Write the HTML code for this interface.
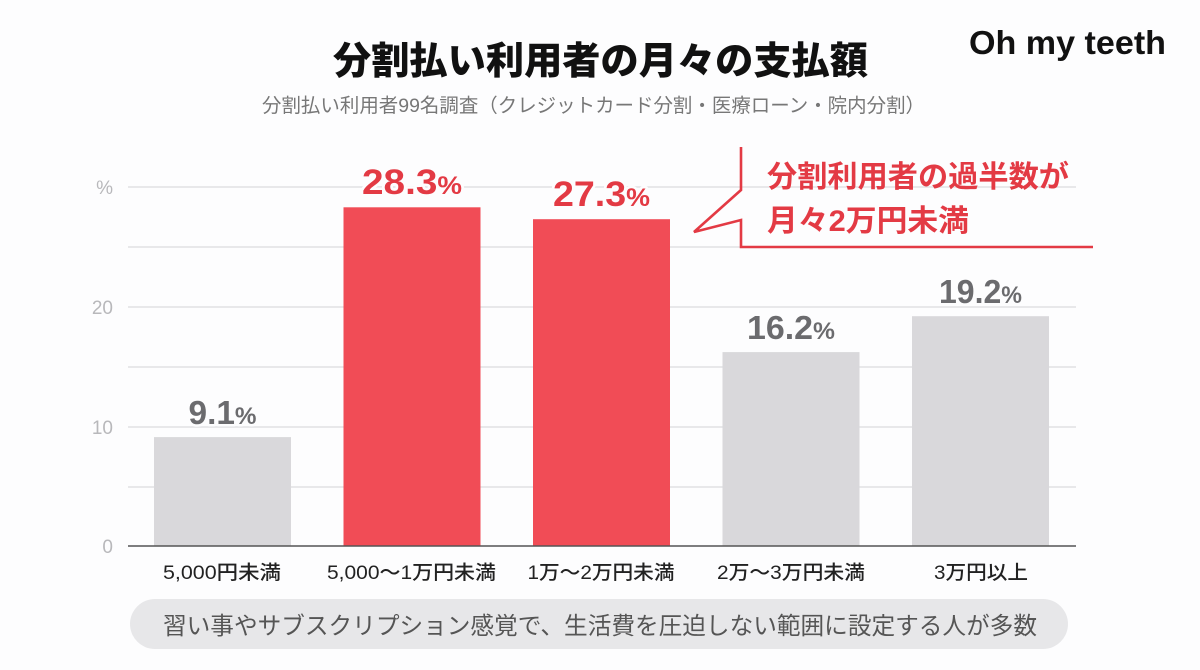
<!DOCTYPE html>
<html lang="ja">
<head>
<meta charset="utf-8">
<style>
  html,body{margin:0;padding:0;background:#fdfdfe;}
  svg{display:block;}
  text{font-family:"Liberation Sans","Noto Sans CJK JP",sans-serif;}
</style>
</head>
<body>
<svg width="1200" height="670" viewBox="0 0 1200 670" xmlns="http://www.w3.org/2000/svg">
  <rect x="0" y="0" width="1200" height="670" fill="#fdfdfe"/>

  <!-- Title -->
  <text x="333" y="74" font-size="38" font-weight="900" fill="#111" textLength="535" lengthAdjust="spacingAndGlyphs">分割払い利用者の月々の支払額</text>
  <!-- Subtitle -->
  <text x="262" y="112" font-size="19.5" fill="#777" textLength="663" lengthAdjust="spacingAndGlyphs">分割払い利用者99名調査（クレジットカード分割・医療ローン・院内分割）</text>

  <!-- Logo -->
  <text x="969" y="54" font-size="33" font-weight="bold" fill="#111" textLength="197" lengthAdjust="spacingAndGlyphs">Oh my teeth</text>

  <!-- Gridlines -->
  <g stroke="#e1e1e4" stroke-width="1.5">
    <line x1="128" y1="187" x2="1076" y2="187"/>
    <line x1="128" y1="247" x2="1076" y2="247"/>
    <line x1="128" y1="307" x2="1076" y2="307"/>
    <line x1="128" y1="367" x2="1076" y2="367"/>
    <line x1="128" y1="427" x2="1076" y2="427"/>
    <line x1="128" y1="487" x2="1076" y2="487"/>
  </g>

  <!-- Y labels -->
  <g font-size="19" fill="#b8b8bb" text-anchor="end">
    <text x="113" y="194">%</text>
    <text x="113" y="314">20</text>
    <text x="113" y="434">10</text>
    <text x="113" y="553">0</text>
  </g>

  <!-- Bars -->
  <rect x="154" y="437.1" width="137" height="108.9" fill="#d9d8db"/>
  <rect x="343.5" y="207.3" width="137" height="338.7" fill="#f14c56"/>
  <rect x="533" y="219.2" width="137" height="326.8" fill="#f14c56"/>
  <rect x="722.5" y="352.1" width="137" height="193.9" fill="#d9d8db"/>
  <rect x="912" y="316.2" width="137" height="229.8" fill="#d9d8db"/>

  <!-- Baseline -->
  <line x1="128" y1="546" x2="1076" y2="546" stroke="#555" stroke-width="1.6"/>

  <!-- Value labels -->
  <g font-weight="bold" text-anchor="middle" stroke="#fdfdfe" stroke-width="5" paint-order="stroke" stroke-linejoin="round">
    <text x="222.5" y="424" fill="#6b6b6e" font-size="33" textLength="68" lengthAdjust="spacingAndGlyphs">9.1<tspan font-size="24">%</tspan></text>
    <text x="412" y="194" fill="#e33a44" font-size="35" textLength="100" lengthAdjust="spacingAndGlyphs">28.3<tspan font-size="25">%</tspan></text>
    <text x="601.5" y="206" fill="#e33a44" font-size="35" textLength="97" lengthAdjust="spacingAndGlyphs">27.3<tspan font-size="25">%</tspan></text>
    <text x="791" y="339" fill="#6b6b6e" font-size="33" textLength="88" lengthAdjust="spacingAndGlyphs">16.2<tspan font-size="24">%</tspan></text>
    <text x="980.5" y="303" fill="#6b6b6e" font-size="33" textLength="83" lengthAdjust="spacingAndGlyphs">19.2<tspan font-size="24">%</tspan></text>
  </g>

  <!-- X labels -->
  <g font-size="19.5" font-weight="500" fill="#222" text-anchor="middle">
    <text x="222" y="579" textLength="118" lengthAdjust="spacingAndGlyphs">5,000円未満</text>
    <text x="411.5" y="579" textLength="169" lengthAdjust="spacingAndGlyphs">5,000～1万円未満</text>
    <text x="601" y="579" textLength="147" lengthAdjust="spacingAndGlyphs">1万～2万円未満</text>
    <text x="791" y="579" textLength="148" lengthAdjust="spacingAndGlyphs">2万～3万円未満</text>
    <text x="981" y="579" textLength="94" lengthAdjust="spacingAndGlyphs">3万円以上</text>
  </g>

  <!-- Callout -->
  <polyline points="741,147 741,190 694,232 741,220 741,247 1093,247" fill="none" stroke="#e33a44" stroke-width="2.6" stroke-linejoin="miter"/>
  <g font-size="30" font-weight="bold" fill="#e33a44">
    <text x="767" y="187" textLength="302" lengthAdjust="spacingAndGlyphs">分割利用者の過半数が</text>
    <text x="767" y="231" textLength="202" lengthAdjust="spacingAndGlyphs">月々2万円未満</text>
  </g>

  <!-- Bottom banner -->
  <rect x="130" y="599" width="938" height="50" rx="25" ry="25" fill="#e7e7e9"/>
  <text x="600" y="634" font-size="23.6" fill="#555" text-anchor="middle" textLength="874" lengthAdjust="spacingAndGlyphs">習い事やサブスクリプション感覚で、生活費を圧迫しない範囲に設定する人が多数</text>
</svg>
</body>
</html>
